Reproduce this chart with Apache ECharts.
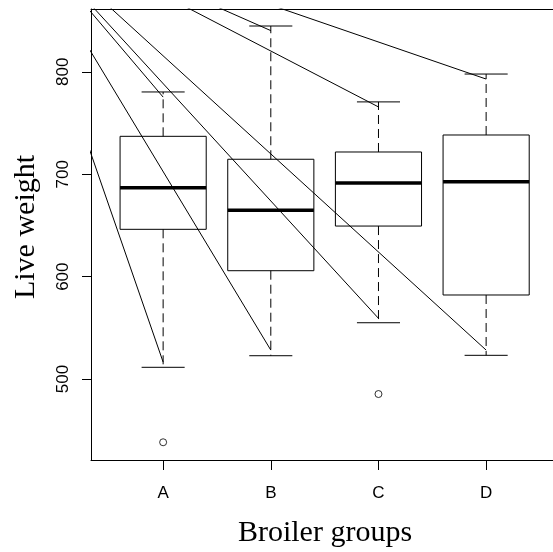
<!DOCTYPE html>
<html>
<head>
<meta charset="utf-8">
<script src="https://cdn.jsdelivr.net/npm/echarts@6/dist/echarts.min.js"></script>
<style>
html,body{margin:0;padding:0;background:#fff;}
#chart{width:553px;height:552px;}
</style>
</head>
<body>
<div id="chart"></div>
<script>
// ---- data ----
const categories = ['A', 'B', 'C', 'D'];
const lowerWhisker = [511.5, 522.8, 555.0, 523.2];
const q1Values = [646.2, 605.8, 649.4, 582.1];
const medianValues = [686.8, 664.8, 691.4, 692.7];
const q3Values = [737.0, 714.6, 721.7, 738.3];
const upperWhisker = [780.3, 844.7, 770.6, 797.8];
const outlierGroups = ['A', 'C'];
const outlierValues = [438.3, 485.4];
// pointer lines: from a common origin (outside the plot) to near each whisker end
const lineOrigin = [-0.44, 953.5];
const lowerLineEnds = [516.6, 528.3, 559.3, 528.3];
const upperLineEnds = [775.3, 840.2, 765.7, 792.9];
const yTicks = [500, 600, 700, 800];
const xTicks = [1, 2, 3, 4];

const boxData = categories.map((c, i) => [i + 1, lowerWhisker[i], q1Values[i], medianValues[i], q3Values[i], upperWhisker[i]]);
const outlierData = outlierGroups.map((g, i) => [categories.indexOf(g) + 1, outlierValues[i]]);

const chart = echarts.init(document.getElementById('chart'), null, {renderer: 'canvas'});

const pointerSeries = [];
categories.forEach((c, i) => {
  [lowerLineEnds[i], upperLineEnds[i]].forEach(endY => {
    pointerSeries.push({
      type: 'line',
      xAxisIndex: 0,
      data: [lineOrigin, [i + 1, endY]],
      showSymbol: false,
      symbol: 'none',
      clip: true,
      silent: true,
      lineStyle: {color: '#000', width: 1},
      z: 5,
      animation: false
    });
  });
});

function renderBox(params, api) {
  const x = api.value(0), lo = api.value(1), q1 = api.value(2), med = api.value(3), q3 = api.value(4), hi = api.value(5);
  const bw = 0.4, cw = 0.2;
  const pTL = api.coord([x - bw, q3]);
  const pBR = api.coord([x + bw, q1]);
  const pc = (xx, yy) => api.coord([xx, yy]);
  const black = '#000';
  const seg = (a, b, style) => ({type: 'line', shape: {x1: a[0], y1: a[1], x2: b[0], y2: b[1]}, style: style});
  return {
    type: 'group',
    children: [
      {type: 'rect', shape: {x: pTL[0], y: pTL[1], width: pBR[0] - pTL[0], height: pBR[1] - pTL[1]},
       style: {fill: 'none', stroke: black, lineWidth: 1}},
      seg(pc(x - bw, med), pc(x + bw, med), {stroke: black, lineWidth: 3.5}),
      seg(pc(x, q3), pc(x, hi), {stroke: black, lineWidth: 1, lineDash: [9, 5]}),
      seg(pc(x, q1), pc(x, lo), {stroke: black, lineWidth: 1, lineDash: [9, 5]}),
      seg(pc(x - cw, hi), pc(x + cw, hi), {stroke: black, lineWidth: 1}),
      seg(pc(x - cw, lo), pc(x + cw, lo), {stroke: black, lineWidth: 1})
    ]
  };
}

const X_MIN = 0.33, X_MAX = 4.621;

const option = {
  animation: false,
  backgroundColor: '#fff',
  grid: {left: 91, top: 9, right: 0, bottom: 92, show: false, containLabel: false},
  xAxis: [{
    type: 'value', min: X_MIN, max: X_MAX, position: 'bottom',
    axisLine: {show: true, onZero: false, lineStyle: {color: '#000', width: 1}},
    splitLine: {show: false},
    axisTick: {show: true, customValues: xTicks, length: 10, inside: false, lineStyle: {color: '#000', width: 1}},
    axisLabel: {show: true, customValues: xTicks, margin: 25, fontSize: 17, fontFamily: 'Liberation Sans', color: '#000',
      formatter: v => categories[Math.round(v) - 1] || ''}
  }, {
    type: 'value', min: X_MIN, max: X_MAX, position: 'top',
    axisLine: {show: true, onZero: false, lineStyle: {color: '#000', width: 1}},
    splitLine: {show: false}, axisTick: {show: false}, axisLabel: {show: false}
  }],
  yAxis: {
    type: 'value', min: 421, max: 861.3,
    axisLine: {show: true, onZero: false, lineStyle: {color: '#000', width: 1}},
    splitLine: {show: false},
    axisTick: {show: true, customValues: yTicks, length: 9, inside: false, lineStyle: {color: '#000', width: 1}},
    axisLabel: {show: true, customValues: yTicks, rotate: 90, margin: 19, fontSize: 17, fontFamily: 'Liberation Sans', color: '#000'}
  },
  graphic: [
    {type: 'text', x: 325, y: 533, style: {text: 'Broiler groups', font: '30px "Liberation Serif"', fill: '#000', align: 'center', verticalAlign: 'middle'}},
    {type: 'text', x: 26.5, y: 227, rotation: Math.PI / 2, style: {text: 'Live weight', font: '30px "Liberation Serif"', fill: '#000', align: 'center', verticalAlign: 'middle'}}
  ],
  series: [
    {type: 'custom', xAxisIndex: 0, renderItem: renderBox, data: boxData, clip: true, z: 3, silent: true, encode: {x: 0, y: [1, 2, 3, 4, 5]}},
    {type: 'scatter', xAxisIndex: 0, data: outlierData, symbol: 'circle', symbolSize: 7, itemStyle: {color: 'transparent', borderColor: '#000', borderWidth: 1}, z: 4, silent: true}
  ].concat(pointerSeries)
};
chart.setOption(option);
</script>
</body>
</html>
